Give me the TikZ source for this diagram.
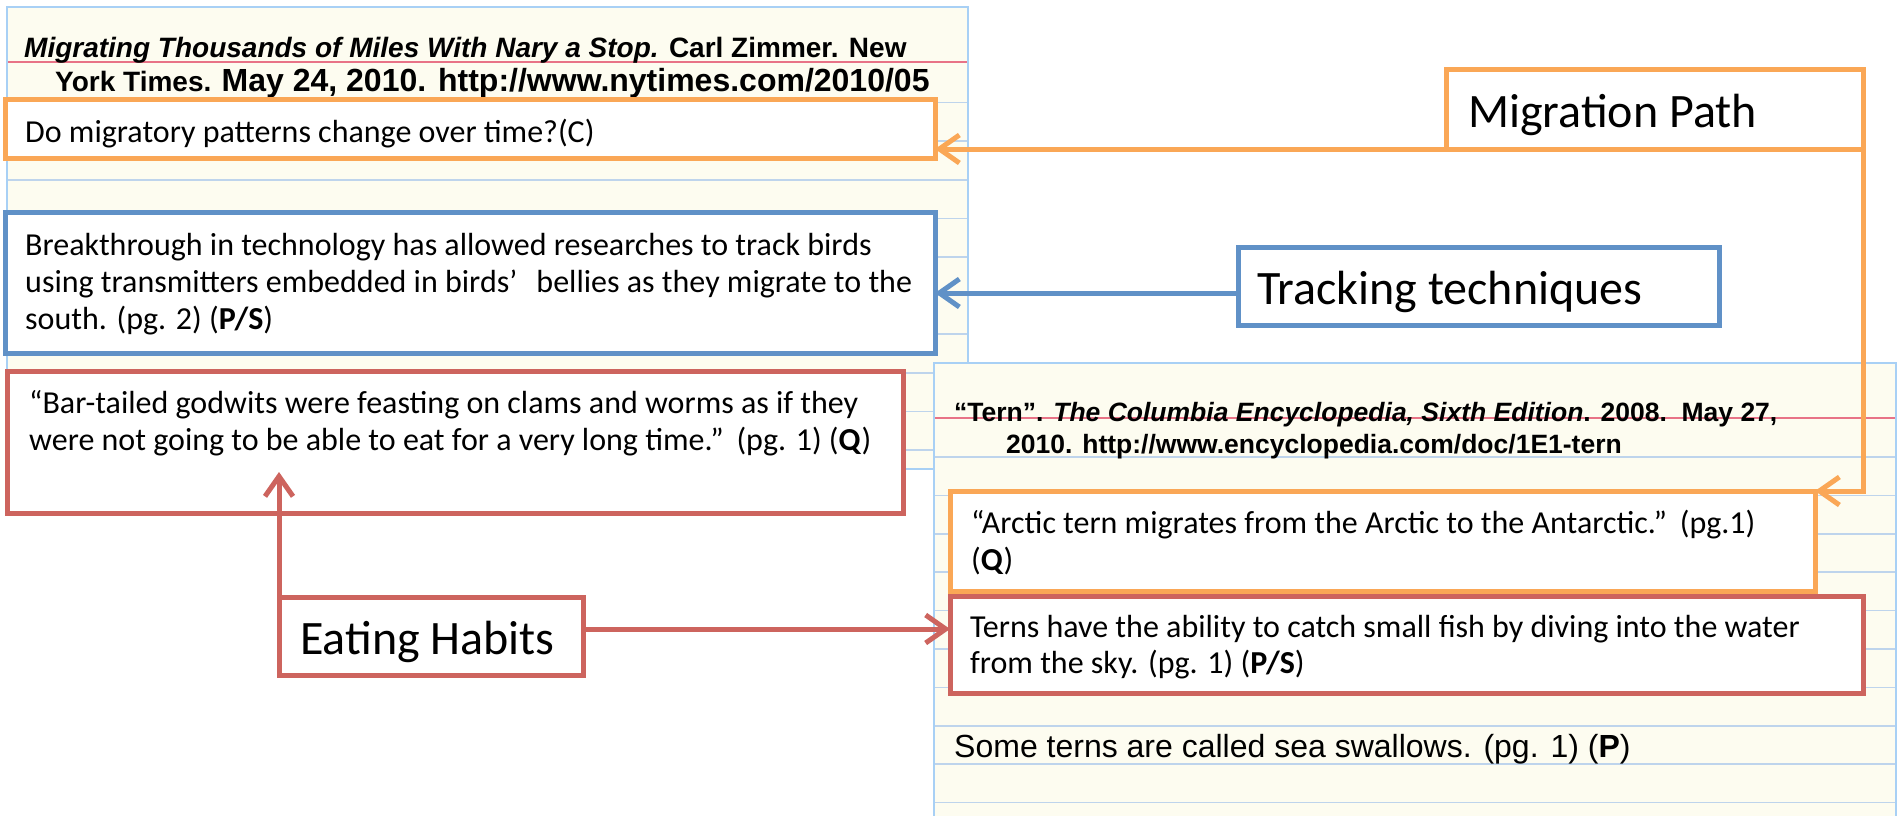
\documentclass[tikz,border=0pt]{standalone}
\usepackage{fontspec}
\setmainfont{Carlito}
\newfontfamily\arial{Liberation Sans}
\usetikzlibrary{arrows.meta}
\definecolor{cOrange}{RGB}{250,167,86}
\definecolor{cBlue}{RGB}{96,145,199}
\definecolor{cRed}{RGB}{205,100,94}
\definecolor{cCard}{RGB}{253,252,240}
\definecolor{cCardEdge}{RGB}{168,208,245}
\definecolor{cRule}{RGB}{190,212,236}
\definecolor{cMargin}{RGB}{232,115,135}
\tikzset{
  boxbase/.style={draw, line width=5pt, fill=white, rectangle, inner sep=0pt, outer sep=0pt, anchor=north west},
  obox/.style={boxbase, draw=cOrange},
  bbox/.style={boxbase, draw=cBlue},
  rbox/.style={boxbase, draw=cRed},
  txt/.style={anchor=base west, inner sep=0pt, font=\fontsize{32}{38}\selectfont},
  lbl/.style={anchor=base west, inner sep=0pt, font=\fontsize{48}{56}\selectfont},
  cite/.style={anchor=base west, inner sep=0pt, font=\arial\bfseries\fontsize{28}{32}\selectfont},
  conn/.style={line width=5pt, -{Straight Barb[length=20pt,width=28pt]}},
  rule/.style={draw=cRule, line width=1.6pt},
  margin/.style={draw=cMargin, line width=2pt},
}
\begin{document}
\begin{tikzpicture}[x=1pt,y=-1pt]
\useasboundingbox (0,0) rectangle (1899,816);
\fill[white] (0,0) rectangle (1899,816);
% card 1
\filldraw[fill=cCard, draw=cCardEdge, line width=2pt] (7,7) rectangle (968,469);
\draw[margin] (8,62) -- (967,62);
\foreach \k in {0,...,9} { \draw[rule] (8,102.5+38.6*\k) -- (967,102.5+38.6*\k); }
% card 2
\fill[cCard] (934,363) rectangle (1896,816);
\draw[cCardEdge, line width=2pt] (934,816) -- (934,363) -- (1896,363) -- (1896,816);
\draw[margin] (935,418) -- (1895,418);
\foreach \k in {0,...,9} { \draw[rule] (935,457+38.4*\k) -- (1895,457+38.4*\k); }
% citations
\node[cite] (c1a) at (24,58) {\itshape Migrating Thousands of Miles With Nary a Stop.\upshape{} Carl Zimmer. New};
\node[cite] (c1b) at (55,92) {\fontsize{28}{32}\selectfont York Times. \fontsize{32}{36}\selectfont May 24, 2010. http://www.nytimes.com/2010/05};
\node[cite, font=\arial\bfseries\fontsize{26.5}{30}\selectfont] (c2a) at (954,421) {“Tern”. \itshape The Columbia Encyclopedia, Sixth Edition\upshape. 2008.\ \ May 27,};
\node[cite, font=\arial\bfseries\fontsize{26.5}{30}\selectfont] (c2b) at (1006,453) {2010. http://www.encyclopedia.com/doc/1E1-tern};
% boxes
\node[obox, minimum width=930pt, minimum height=59pt] (q1) at (5,99) {};
\node[bbox, minimum width=930pt, minimum height=141pt] (blue1) at (5,212) {};
\node[rbox, minimum width=896pt, minimum height=142pt] (red1) at (7,371) {};
\node[obox, minimum width=865pt, minimum height=100pt] (q2) at (950,491) {};
\node[rbox, minimum width=913pt, minimum height=97pt] (red2) at (950,596) {};
\node[obox, minimum width=417pt, minimum height=79pt] (mig) at (1446,70) {};
\node[bbox, minimum width=481pt, minimum height=78pt] (track) at (1238,247) {};
\node[rbox, minimum width=304pt, minimum height=78pt] (eat) at (279,597) {};
% box texts
\node[txt] (t1) at (25,142) {Do migratory patterns change over time?(C)};
\node[txt] (t2a) at (25,255) {Breakthrough in technology has allowed researches to track birds};
\node[txt] (t2b) at (25,292) {using transmitters embedded in birds’\hspace{0.6em}bellies as they migrate to the};
\node[txt] (t2c) at (25,329) {south. (pg. 2) (\textbf{P/S})};
\node[txt] (t3a) at (29,413) {“Bar-tailed godwits were feasting on clams and worms as if they};
\node[txt] (t3b) at (29,450) {were not going to be able to eat for a very long time.”\hspace{0.4em}(pg. 1) (\textbf{Q})};
\node[txt] (t4a) at (971,533) {“Arctic tern migrates from the Arctic to the Antarctic.”\hspace{0.4em}(pg.1)};
\node[txt] (t4b) at (971,570) {(\textbf{Q})};
\node[txt] (t5a) at (970,637) {Terns have the ability to catch small fish by diving into the water};
\node[txt] (t5b) at (970,673) {from the sky. (pg. 1) (\textbf{P/S})};
\node[txt, font=\arial\fontsize{32}{38}\selectfont] (t6) at (954,757) {Some terns are called sea swallows. (pg. 1) (\textbf{P})};
\node[lbl] (l1) at (1468,128) {Migration Path};
\node[lbl] (l2) at (1257,304) {Tracking techniques};
\node[lbl] (l3) at (300,654) {Eating Habits};
% connectors
\draw[conn, draw=cOrange] (mig.south west) -- (q1.east |- mig.south west);
\draw[conn, draw=cOrange] (mig.south east) |- (q2.north east);
\coordinate (tb) at ([yshift=-7pt]track.west);
\draw[conn, draw=cBlue] (tb) -- (blue1.east |- tb);
\coordinate (eu) at ([yshift=41pt]eat.north west |- red1.south);
\draw[conn, draw=cRed] (eat.north west) -- (eu);
\coordinate (er) at ([yshift=7pt]eat.east);
\draw[conn, draw=cRed] (er) -- (red2.west |- er);
\end{tikzpicture}
\end{document}
